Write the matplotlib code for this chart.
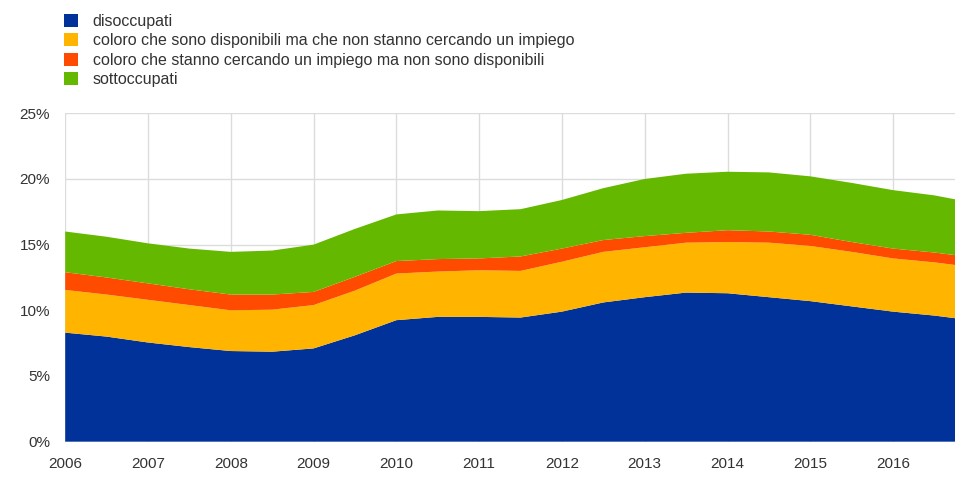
import numpy as np
import matplotlib.pyplot as plt
from matplotlib.patches import Patch

plt.rcParams['font.family'] = ['Liberation Sans', 'DejaVu Sans']

# half-yearly readings, percent of labour force
years = [2006, 2006.5, 2007, 2007.5, 2008, 2008.5, 2009, 2009.5, 2010, 2010.5,
         2011, 2011.5, 2012, 2012.5, 2013, 2013.5, 2014, 2014.5, 2015, 2015.5,
         2016, 2016.5, 2016.75]
disoccupati = [8.3, 8.0, 7.55, 7.2, 6.9, 6.85, 7.1, 8.1, 9.25, 9.5,
               9.5, 9.45, 9.9, 10.6, 11.0, 11.35, 11.3, 11.0, 10.7, 10.3,
               9.9, 9.6, 9.4]
disponibili = [3.25, 3.2, 3.25, 3.2, 3.1, 3.2, 3.3, 3.4, 3.55, 3.45,
               3.55, 3.55, 3.8, 3.85, 3.8, 3.8, 3.9, 4.15, 4.2, 4.15,
               4.05, 4.05, 4.05]
cercando = [1.35, 1.3, 1.25, 1.2, 1.2, 1.15, 1.0, 1.05, 0.95, 0.95,
            0.9, 1.1, 1.0, 0.9, 0.85, 0.75, 0.9, 0.85, 0.85, 0.75,
            0.75, 0.75, 0.75]
sottoccupati = [3.1, 3.1, 3.05, 3.1, 3.25, 3.35, 3.6, 3.65, 3.55, 3.7,
                3.6, 3.6, 3.7, 3.95, 4.35, 4.5, 4.45, 4.5, 4.45, 4.5,
                4.45, 4.35, 4.25]

labels = ['disoccupati',
          'coloro che sono disponibili ma che non stanno cercando un impiego',
          'coloro che stanno cercando un impiego ma non sono disponibili',
          'sottoccupati']
colors = ['#003299', '#FFB400', '#FF4B00', '#65B800']
year_ticks = list(range(2006, 2017))
pct_ticks = [0, 5, 10, 15, 20, 25]

fig = plt.figure(figsize=(9.59, 4.78), dpi=100)
ax = fig.add_axes([0.068, 0.076, 0.928, 0.687])

ax.stackplot(years, disoccupati, disponibili, cercando, sottoccupati,
             colors=colors, linewidth=0, zorder=2)

ax.set_xlim(2006, 2016.75)
ax.set_ylim(0, 25)
ax.set_xticks(year_ticks)
ax.set_yticks(pct_ticks)
ax.set_yticklabels([f'{p}%' for p in pct_ticks])
ax.grid(True, color='#dcdcdc', linewidth=1, zorder=0)
ax.set_axisbelow(True)
for s in ax.spines.values():
    s.set_visible(False)
ax.tick_params(length=0, labelsize=11, colors='#333333')
ax.tick_params(axis='x', pad=11)
ax.tick_params(axis='y', pad=11)

handles = [Patch(facecolor=c, edgecolor='none') for c in colors]
fig.legend(handles, labels, loc='upper left', bbox_to_anchor=(0.053, 1.0),
           frameon=False, fontsize=11.5, handlelength=0.875, handleheight=0.875,
           handletextpad=0.9, labelspacing=0.28, borderaxespad=0.45,
           labelcolor='#333333')

fig.savefig('out.png', dpi=100)
